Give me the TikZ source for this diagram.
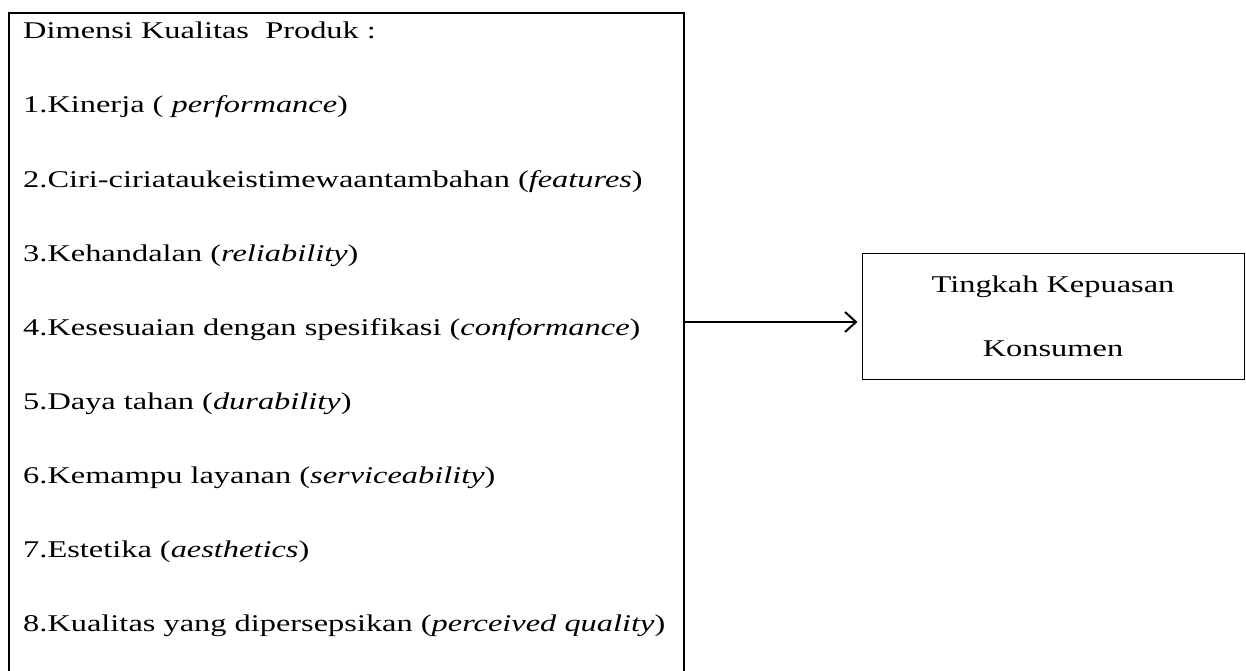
\documentclass[tikz,border=0pt]{standalone}
\usepackage{fontspec}
\setmainfont[FakeStretch=1.35]{Liberation Serif}
\usetikzlibrary{arrows.meta,positioning}
\tikzset{
  kotak/.style={draw, line width=2pt, inner sep=0pt},
  teks/.style={anchor=base west, inner sep=0pt, font=\fontsize{24}{24}\selectfont},
  hasil/.style={draw, line width=1pt, minimum width=382pt, minimum height=126pt, align=center, inner sep=0pt, font=\fontsize{24}{64}\selectfont},
  panah/.style={-{Straight Barb[length=11pt, width=20pt]}, line width=2pt},
}
\begin{document}
\begin{tikzpicture}[x=1pt, y=-1pt]
  \useasboundingbox (0,0) rectangle (1246,671);
  % kotak dimensi kualitas produk
  \node[kotak, minimum width=675pt, minimum height=700pt, anchor=north west] (kualitas) at (8,12) {};
  \foreach \i/\t in {0/{Dimensi Kualitas\ \ Produk :},
                     1/{1.Kinerja ( \textit{performance})},
                     2/{2.Ciri-ciriataukeistimewaantambahan (\textit{features})},
                     3/{3.Kehandalan (\textit{reliability})},
                     4/{4.Kesesuaian dengan spesifikasi (\textit{conformance})},
                     5/{5.Daya tahan (\textit{durability})},
                     6/{6.Kemampu layanan (\textit{serviceability})},
                     7/{7.Estetika (\textit{aesthetics})},
                     8/{8.Kualitas yang dipersepsikan (\textit{perceived quality})}}
    \node[teks] (baris\i) at (23,{39+74*\i}) {\t};
  % kepuasan konsumen
  \node[hasil] (puas) at (1053,316) {Tingkah Kepuasan\\Konsumen};
  \draw[panah] ([yshift=-6pt]puas.west -| kualitas.east) -- ([yshift=-6pt, xshift=-4pt]puas.west);
\end{tikzpicture}
\end{document}
